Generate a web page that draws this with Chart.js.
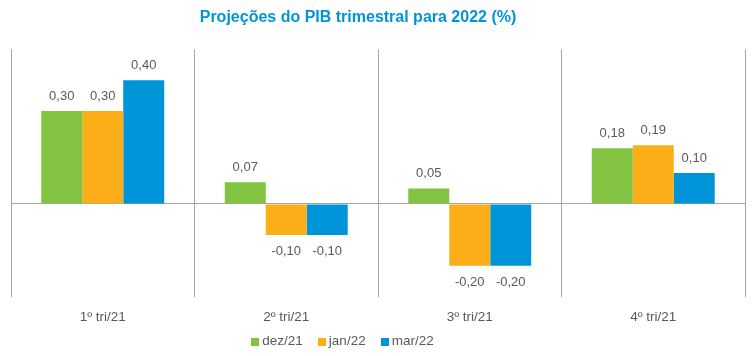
<!DOCTYPE html>
<html>
<head>
<meta charset="utf-8">
<script src="https://cdn.jsdelivr.net/npm/chart.js@4.4.1/dist/chart.umd.min.js"></script>
<style>
html,body{margin:0;padding:0;background:#fff;}
#wrap{width:753px;height:356px;position:relative;}
</style>
</head>
<body>
<div id="wrap"><canvas id="c" width="753" height="356"></canvas></div>
<script>
const categories = ["1º tri/21", "2º tri/21", "3º tri/21", "4º tri/21"];
const seriesNames = ["dez/21", "jan/22", "mar/22"];
const dez21 = [0.30, 0.07, 0.05, 0.18];
const jan22 = [0.30, -0.10, -0.20, 0.19];
const mar22 = [0.40, -0.10, -0.20, 0.10];
const colors = ["#82C341", "#FBAE17", "#0095D9"];
const titleText = "Projeções do PIB trimestral para 2022 (%)";
const yMin = -0.3, yMax = 0.5;

const textColor = "#595959";
const gridColor = "#A6A6A6";
const fam = "'Liberation Sans', Arial, sans-serif";

const labelPlugin = {
  id: 'barLabels',
  afterDatasetsDraw(chart) {
    const ctx = chart.ctx;
    ctx.save();
    ctx.font = "13px " + fam;
    ctx.fillStyle = textColor;
    ctx.textAlign = 'center';
    ctx.textBaseline = 'middle';
    chart.data.datasets.forEach((ds, i) => {
      const meta = chart.getDatasetMeta(i);
      meta.data.forEach((bar, j) => {
        const v = ds.data[j];
        const txt = v.toFixed(2).replace('.', ',');
        const y = v >= 0 ? bar.y - 15 : bar.y + 17;
        ctx.fillText(txt, bar.x, y);
      });
    });
    ctx.restore();
  }
};

// Legend drawn as real canvas text at the bottom
const legendPlugin = {
  id: 'bottomLegend',
  afterDraw(chart) {
    const ctx = chart.ctx;
    ctx.save();
    ctx.font = "13.5px " + fam;
    ctx.textBaseline = 'middle';
    ctx.textAlign = 'left';
    const box = 8, gapText = 3, gapItem = 15;
    const items = chart.data.datasets.map(ds => ({ label: ds.label, color: ds.backgroundColor, w: ctx.measureText(ds.label).width }));
    let total = 0;
    items.forEach((it, i) => { total += box + gapText + it.w + (i < items.length - 1 ? gapItem : 0); });
    let x = 342.5 - total / 2;
    const yc = 341.5;
    items.forEach(it => {
      ctx.fillStyle = it.color;
      ctx.fillRect(Math.round(x), Math.round(yc - box / 2), box, box);
      x += box + gapText;
      ctx.fillStyle = textColor;
      ctx.fillText(it.label, x, yc);
      x += it.w + gapItem;
    });
    ctx.restore();
  }
};

const shiftPlugin = {
  id: 'shiftBoxes',
  afterLayout(chart) {
    const t = chart.titleBlock;
    if (t) { t.left -= 20; t.right -= 20; }
  }
};

new Chart(document.getElementById('c'), {
  type: 'bar',
  data: {
    labels: categories,
    datasets: [
      { label: seriesNames[0], data: dez21, backgroundColor: colors[0] },
      { label: seriesNames[1], data: jan22, backgroundColor: colors[1] },
      { label: seriesNames[2], data: mar22, backgroundColor: colors[2] }
    ]
  },
  options: {
    responsive: false,
    animation: false,
    devicePixelRatio: 1,
    layout: { padding: { left: 11, right: 8, top: 0, bottom: 19 } },
    datasets: { bar: { barPercentage: 1.0, categoryPercentage: 0.67 } },
    plugins: {
      title: {
        display: true,
        text: titleText,
        color: "#0095D9",
        font: { family: fam, size: 16, weight: 'bold' },
        padding: { top: 8, bottom: 22 }
      },
      legend: { display: false },
      tooltip: { enabled: false }
    },
    scales: {
      x: {
        grid: { display: true, color: gridColor, drawTicks: false, offset: true },
        border: { display: false },
        ticks: { color: textColor, font: { family: fam, size: 13.5 }, padding: 12 }
      },
      y: {
        min: yMin, max: yMax,
        ticks: { display: false, stepSize: 0.1 },
        grid: {
          drawTicks: false,
          color: (c) => (c.tick && Math.abs(c.tick.value) < 1e-9) ? gridColor : 'rgba(0,0,0,0)'
        },
        border: { display: false },
        afterFit(s) { s.width = 0; }
      }
    }
  },
  plugins: [labelPlugin, legendPlugin, shiftPlugin]
});
</script>
</body>
</html>
